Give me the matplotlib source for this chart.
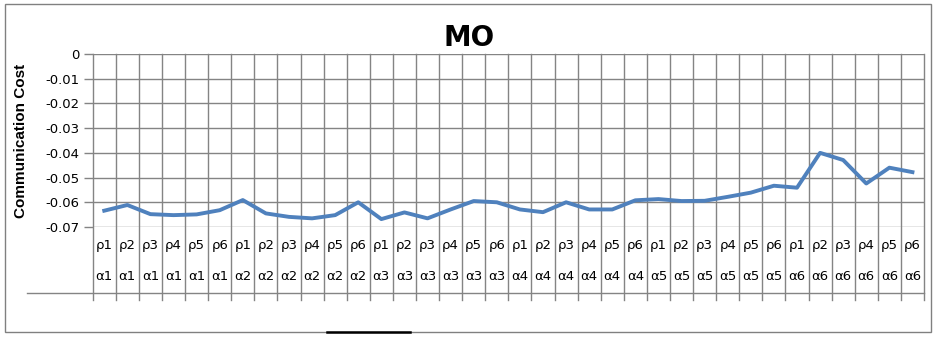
import matplotlib
matplotlib.use("Agg")
import matplotlib.pyplot as plt
import matplotlib.transforms as mtransforms
from matplotlib.lines import Line2D
from matplotlib.patches import Rectangle

# ---- data ----
rho_labels = ["ρ1", "ρ2", "ρ3", "ρ4", "ρ5", "ρ6"]
alpha_labels = ["α1", "α2", "α3", "α4", "α5", "α6"]
values = [
    -0.0634, -0.0611, -0.0648, -0.0652, -0.0649, -0.0632,   # α1
    -0.0591, -0.0645, -0.0659, -0.0665, -0.0652, -0.0600,   # α2
    -0.0668, -0.0641, -0.0665, -0.0629, -0.0595, -0.0600,   # α3
    -0.0629, -0.0640, -0.0600, -0.0629, -0.0629, -0.0592,   # α4
    -0.0587, -0.0595, -0.0594, -0.0578, -0.0561, -0.0533,   # α5
    -0.0541, -0.0400, -0.0429, -0.0524, -0.0460, -0.0478,   # α6
]
y_ticks = [0, -0.01, -0.02, -0.03, -0.04, -0.05, -0.06, -0.07]
y_tick_labels = ["0", "-0.01", "-0.02", "-0.03", "-0.04", "-0.05", "-0.06", "-0.07"]
title = "MO"
ylabel = "Communication Cost"

W, H = 938, 339
fig = plt.figure(figsize=(W / 100, H / 100), dpi=100)
fig.patch.set_facecolor("white")

grid_c = "#848484"
line_c = "#4F81BD"

# outer frame
fig.patches.append(Rectangle((5 / W, 1 - 332 / H), (931 - 5) / W, (332 - 4) / H,
                             transform=fig.transFigure, fill=False,
                             edgecolor="#808080", linewidth=1.0))

left, right, top, bottom = 92.7, 924, 54, 227
ax = fig.add_axes([left / W, 1 - bottom / H, (right - left) / W, (bottom - top) / H])

n = len(values)
xs = [i + 0.5 for i in range(n)]
ax.set_xlim(0, n)
ax.set_ylim(-0.07, 0)

for s in ax.spines.values():
    s.set_visible(False)

ax.set_yticks(y_ticks)
ax.set_yticklabels(y_tick_labels, fontsize=9.5, family="DejaVu Sans")
ax.tick_params(axis="y", length=6.5, color=grid_c, width=1, pad=3)
ax.set_xticks([])

for yv in y_ticks:
    ax.axhline(yv, color=grid_c, linewidth=1, zorder=1)

# vertical gridlines extending into category label area
blend = mtransforms.blended_transform_factory(ax.transData, ax.transAxes)
tick_ext = -(300 - bottom) / (bottom - top)
for i in range(n + 1):
    ax.add_line(Line2D([i, i], [1, tick_ext], transform=blend, color=grid_c,
                       linewidth=1, clip_on=False, zorder=1))

ax.plot(xs, values, color=line_c, linewidth=2.8, zorder=3, solid_joinstyle="round")

# category labels (two-level)
row1 = -(245 - bottom) / (bottom - top)
row2 = -(277 - bottom) / (bottom - top)
for i in range(n):
    ax.text(xs[i], row1, rho_labels[i % 6], transform=blend, ha="center", va="center",
            fontsize=9.5, family="DejaVu Sans")
    ax.text(xs[i], row2, alpha_labels[i // 6], transform=blend, ha="center", va="center",
            fontsize=9.5, family="DejaVu Sans")

# bottom horizontal line of category area
fig.add_artist(Line2D([27 / W, right / W], [1 - 293 / H, 1 - 293 / H],
                      transform=fig.transFigure, color=grid_c, linewidth=1))

# small artifact line at the bottom
fig.add_artist(Line2D([327 / W, 410 / W], [1 - 332 / H, 1 - 332 / H],
                      transform=fig.transFigure, color="black", linewidth=1.8))

fig.text(469 / W, 1 - 38 / H, title, ha="center", va="center", fontsize=20,
         fontweight="bold", family="DejaVu Sans")
fig.text(21 / W, 1 - 141 / H, ylabel, ha="center", va="center", rotation=90,
         fontsize=11, fontweight="bold", family="Liberation Sans")

fig.savefig("out.png", dpi=100)
